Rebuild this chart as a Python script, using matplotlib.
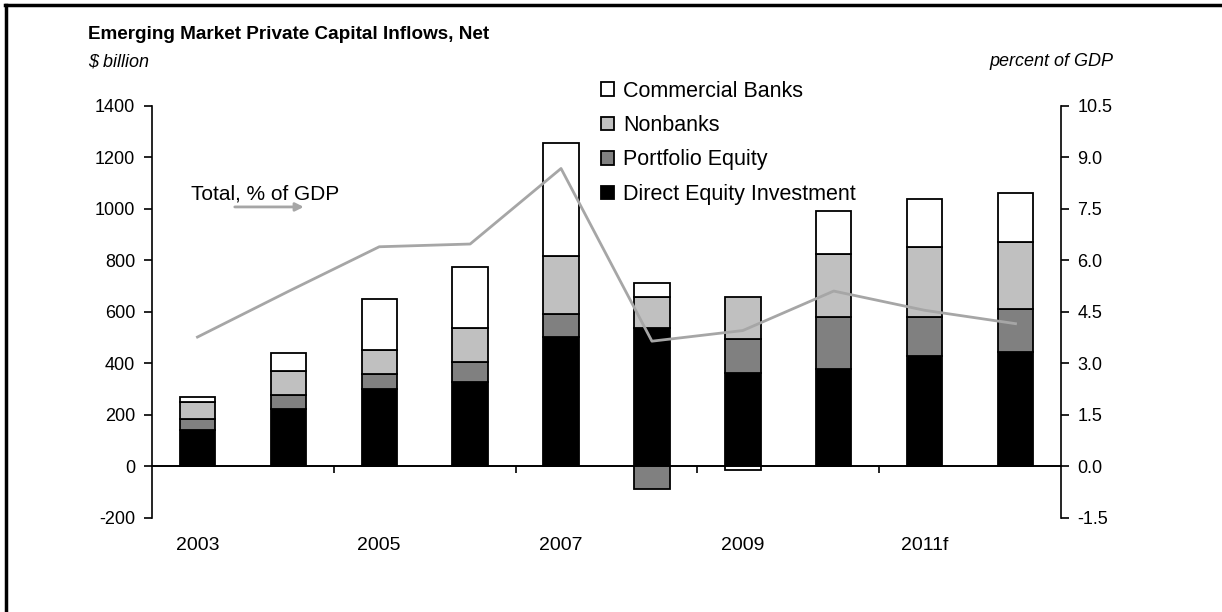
import numpy as np
import matplotlib
matplotlib.use('Agg')
from matplotlib import pyplot as plt
from matplotlib.lines import Line2D

plt.rcParams['font.family'] = ['Liberation Sans', 'DejaVu Sans']
plt.rcParams['axes.unicode_minus'] = False

# values ($ billion, % of GDP)
years = ['2003', '2004', '2005', '2006', '2007', '2008', '2009', '2010', '2011f', '2012f']
year_labels = ['2003', '', '2005', '', '2007', '', '2009', '', '2011f', '']
direct = [140, 224, 302, 328, 504, 538, 365, 378, 428, 443]
portfolio = [45, 54, 59, 76, 89, -88, 130, 201, 151, 170]
nonbanks = [65, 92, 91, 133, 224, 119, 162, 245, 272, 260]
banks = [20, 71, 197, 239, 441, 56, -13, 169, 189, 189]
total_pct = [3.77, 5.1, 6.4, 6.48, 8.68, 3.65, 3.96, 5.11, 4.55, 4.16]

series = [('Direct Equity Investment', direct, '#000000'),
          ('Portfolio Equity', portfolio, '#808080'),
          ('Nonbanks', nonbanks, '#c0c0c0'),
          ('Commercial Banks', banks, '#ffffff')]

fig = plt.figure(figsize=(12.22, 6.12), dpi=100)
ax = fig.add_axes([0.1244, 0.1536, 0.7438, 0.6732])
x = np.arange(len(years))

pos_base = np.zeros(len(years))
neg_base = np.zeros(len(years))
handles = []
for name, vals, col in series:
    v = np.array(vals, dtype=float)
    base = np.where(v >= 0, pos_base, neg_base)
    b = ax.bar(x, v, 0.39, bottom=base, color=col, edgecolor='black', linewidth=1.3,
               label=name, zorder=2)
    handles.append(b)
    pos_base = pos_base + np.where(v >= 0, v, 0)
    neg_base = neg_base + np.where(v < 0, v, 0)

ax.set_xlim(-0.5, 9.5)
ax.set_ylim(-200, 1400)
ax.set_yticks(np.arange(-200, 1401, 200))
ax.tick_params(axis='y', direction='out', length=6, width=1.2, labelsize=13, pad=6)
for s in ['top', 'right']:
    ax.spines[s].set_visible(False)
ax.spines['left'].set_linewidth(1.2)
ax.spines['bottom'].set_position(('data', 0))
ax.spines['bottom'].set_linewidth(1.2)

# tick marks between pairs of years, labels on minor ticks at the bottom
ax.set_xticks(np.arange(1.5, 9, 2))
ax.set_xticklabels([])
ax.tick_params(axis='x', which='major', direction='out', length=5, width=1.2)
ax.set_xticks(x, minor=True)
ax.set_xticklabels(year_labels, minor=True)
ax.tick_params(axis='x', which='minor', length=0, labelsize=14, pad=51)

ax2 = ax.twinx()
ax2.set_position(ax.get_position())
ax2.plot(x, total_pct, color='#a6a6a6', linewidth=2, zorder=3)
ax2.set_ylim(-1.5, 10.5)
ax2.set_yticks(np.arange(-1.5, 10.6, 1.5))
ax2.set_yticklabels([f'{t:.1f}' for t in np.arange(-1.5, 10.6, 1.5)])
ax2.tick_params(axis='y', direction='out', length=6, width=1.2, labelsize=13, pad=6)
for s in ['top', 'left', 'bottom']:
    ax2.spines[s].set_visible(False)
ax2.spines['right'].set_linewidth(1.2)

# the zero line runs to the right axis
ax.axhline(0, color='black', linewidth=1.2, zorder=1)

leg = fig.legend(handles=handles[::-1], loc='upper left', bbox_to_anchor=(0.492, 0.868),
                 frameon=False, fontsize=15.5, handlelength=0.58, handleheight=0.58,
                 handletextpad=0.45, labelspacing=0.62, borderaxespad=0, borderpad=0)

fig.text(0.072, 0.944, 'Emerging Market Private Capital Inflows, Net', fontsize=13.6,
         fontweight='bold', va='center', ha='left')
fig.text(0.072, 0.899, '\\$ billion', fontsize=13, style='italic', va='center', ha='left')
fig.text(0.911, 0.899, 'percent of GDP', fontsize=13, style='italic', va='center', ha='right')

ax.text(0.043, 0.787, 'Total, % of GDP', transform=ax.transAxes, fontsize=15,
        va='center', ha='left')
ax.annotate('', xy=(0.17, 0.755), xytext=(0.088, 0.755), xycoords='axes fraction',
            arrowprops=dict(arrowstyle='-|>', color='#a6a6a6', lw=2, mutation_scale=12))

# frame lines along the top and left of the picture
fig.add_artist(Line2D([0.004, 1.0], [0.992, 0.992], color='black', linewidth=2.5,
                      transform=fig.transFigure))
fig.add_artist(Line2D([0.005, 0.005], [0.0, 0.992], color='black', linewidth=2.5,
                      transform=fig.transFigure))

fig.savefig('out.png', dpi=100, facecolor='white')
